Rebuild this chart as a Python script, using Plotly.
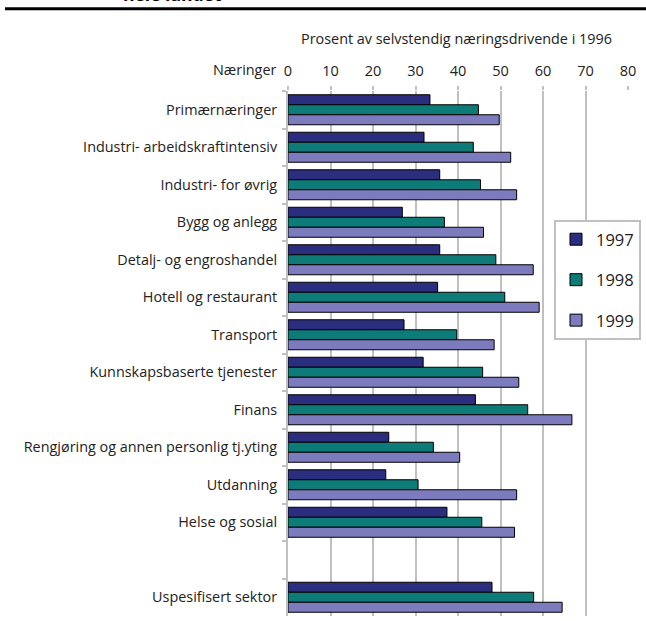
import plotly.graph_objects as go

categories = [
    "Primærnæringer",
    "Industri- arbeidskraftintensiv",
    "Industri- for øvrig",
    "Bygg og anlegg",
    "Detalj- og engroshandel",
    "Hotell og restaurant",
    "Transport",
    "Kunnskapsbaserte tjenester",
    "Finans",
    "Rengjøring og annen personlig tj.yting",
    "Utdanning",
    "Helse og sosial",
    " ",
    "Uspesifisert sektor",
]

v1997 = [33.4, 32.0, 35.7, 26.9, 35.7, 35.2, 27.3, 31.8, 44.1, 23.7, 23.0, 37.4, None, 48.0]
v1998 = [44.8, 43.6, 45.3, 36.8, 48.9, 51.0, 39.7, 45.8, 56.4, 34.2, 30.6, 45.6, None, 57.8]
v1999 = [49.7, 52.4, 53.8, 46.0, 57.7, 59.1, 48.5, 54.3, 66.8, 40.4, 53.8, 53.3, None, 64.5]

series = [("1997", v1997, "#2B2E7E"), ("1998", v1998, "#0D7B78"), ("1999", v1999, "#7B7BBD")]

W, H = 646, 621
ml, mr, mt, mb = 288, 18, 91, 5
pw, ph = W - ml - mr, H - mt - mb

def px(x):
    return (x - ml) / pw

def py(y):
    return (H - mb - y) / ph

fig = go.Figure()
for name, vals, col in series:
    fig.add_trace(go.Bar(
        y=categories, x=vals, name=name, orientation="h",
        marker=dict(color=col, line=dict(color="#000000", width=1)),
        legendgroup=name,
    ))

font = "Open Sans, Noto Sans, DejaVu Sans, sans-serif"
fig.update_layout(
    width=W, height=H,
    margin=dict(l=ml, r=mr, t=mt, b=mb, autoexpand=False),
    paper_bgcolor="white", plot_bgcolor="white",
    barmode="group", bargap=0.2, bargroupgap=0,
    font=dict(family=font, size=14, color="#222222"),
    showlegend=True,
    legend=dict(
        x=px(554), y=py(220), xanchor="left", yanchor="top",
        bgcolor="white", bordercolor="#C0C0C0", borderwidth=2,
        font=dict(size=16.5, color="#222222"),
        tracegroupgap=16, itemwidth=30,
    ),
    xaxis=dict(
        side="top", range=[0, 80], dtick=10, tick0=0,
        showgrid=True, gridcolor="#C0C0C0", gridwidth=2,
        ticks="outside", ticklen=4, tickcolor="#C0C0C0", tickwidth=2,
        tickfont=dict(size=14.5, color="#222222"),
        ticklabelstandoff=4,
        zeroline=False, showline=False, fixedrange=True, automargin=False,
    ),
    yaxis=dict(
        categoryorder="array", categoryarray=categories,
        autorange="reversed",
        showline=True, linecolor="#C0C0C0", linewidth=2,
        ticks="outside", ticklen=4, tickcolor="#C0C0C0", tickwidth=2,
        tickson="boundaries",
        tickfont=dict(size=14.4, color="#222222"),
        ticklabelstandoff=6,
        showgrid=False, fixedrange=True, automargin=False,
    ),
)

fig.add_annotation(
    text="Prosent av selvstendig næringsdrivende i 1996",
    xref="paper", yref="paper", x=px(456), y=py(38),
    showarrow=False, font=dict(size=14.4, color="#222222"),
    xanchor="center", yanchor="middle",
)
fig.add_annotation(
    text="Næringer",
    xref="paper", yref="paper", x=px(278), y=py(70),
    showarrow=False, font=dict(size=14.4, color="#222222"),
    xanchor="right", yanchor="middle",
)
fig.add_annotation(
    text="<b>hele landet</b>",
    xref="paper", yref="paper", x=px(121), y=py(8),
    showarrow=False, font=dict(size=17.5, color="#000000"),
    xanchor="left", yanchor="bottom",
)
fig.add_shape(
    type="line", xref="paper", yref="paper",
    x0=px(5), x1=px(646), y0=py(8.7), y1=py(8.7),
    line=dict(color="#000000", width=3),
)

fig.write_html(
    "out.html",
    config={"displayModeBar": False},
    post_script="document.body.style.margin='0';document.body.style.padding='0';",
)
